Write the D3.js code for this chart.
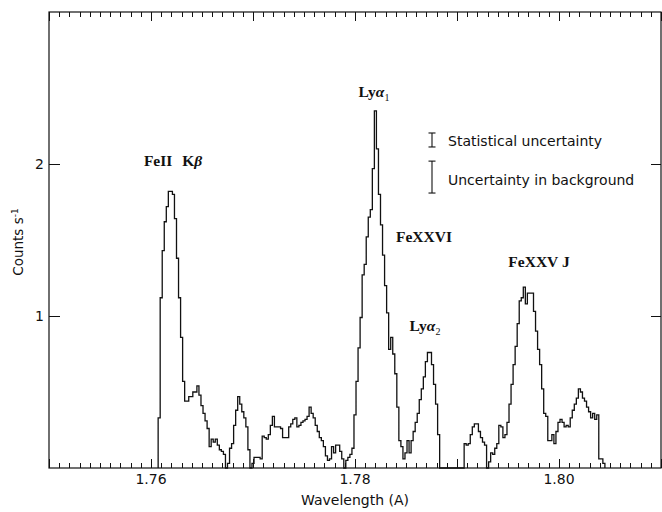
<!DOCTYPE html>
<html>
<head>
<meta charset="utf-8">
<script src="https://cdn.jsdelivr.net/npm/d3@7"></script>
<style>
  html, body { margin: 0; padding: 0; background: #fff; }
  svg { display: block; }
  .sans { font-family: "DejaVu Sans", sans-serif; fill: #111; }
  .lab { font-family: "Liberation Serif", "Times New Roman", serif; font-weight: bold; fill: #111; }
</style>
</head>
<body>
<svg id="chart" width="662" height="512"></svg>
<script>
// Spectrum binning: first bin edge (Å) and bin width (Å)
const binStart = 1.7607;
const binWidth = 0.0002;

// Count rate per bin (counts s^-1)
const counts = [
  0.33, 1.12, 1.43, 1.62, 1.72, 1.82, 1.82, 1.80, 1.64, 1.38,
  1.12, 0.86, 0.57, 0.44, 0.44, 0.47, 0.47, 0.50, 0.50, 0.54,
  0.48, 0.41, 0.36, 0.31, 0.26, 0.14, 0.19, 0.17, 0.19, 0.15,
  0.12, 0.11, 0.09, 0.00, 0.03, 0.13, 0.16, 0.28, 0.38, 0.47,
  0.42, 0.37, 0.33, 0.27, 0.12, 0.00, 0.03, 0.07, 0.07, 0.07,
  0.06, 0.21, 0.20, 0.19, 0.22, 0.28, 0.34, 0.27, 0.27, 0.27,
  0.26, 0.20, 0.20, 0.20, 0.27, 0.29, 0.32, 0.33, 0.27, 0.28,
  0.30, 0.31, 0.32, 0.34, 0.40, 0.36, 0.33, 0.28, 0.24, 0.20,
  0.18, 0.14, 0.08, 0.05, 0.06, 0.14, 0.10, 0.15, 0.15, 0.11,
  0.06, 0.00, 0.05, 0.07, 0.09, 0.13, 0.35, 0.57, 0.79, 0.99,
  1.27, 1.34, 1.52, 1.65, 1.70, 1.97, 2.35, 2.10, 1.80, 1.60,
  1.40, 1.20, 1.02, 0.78, 0.86, 0.75, 0.62, 0.40, 0.18, 0.14,
  0.06, 0.10, 0.18, 0.10, 0.18, 0.24, 0.30, 0.36, 0.45, 0.52,
  0.60, 0.70, 0.76, 0.76, 0.68, 0.55, 0.42, 0.22, 0.00, 0.00,
  0.00, 0.00, 0.00, 0.00, 0.00, 0.00, 0.00, 0.00, 0.00, 0.00,
  0.16, 0.15, 0.16, 0.22, 0.27, 0.29, 0.29, 0.24, 0.20, 0.17,
  0.15, 0.00, 0.04, 0.10, 0.09, 0.13, 0.16, 0.28, 0.27, 0.20,
  0.22, 0.30, 0.42, 0.55, 0.68, 0.80, 0.95, 1.10, 1.12, 1.19,
  1.08, 1.15, 1.15, 1.15, 1.03, 0.90, 0.78, 0.68, 0.52, 0.36,
  0.34, 0.18, 0.18, 0.22, 0.16, 0.24, 0.30, 0.32, 0.30, 0.27,
  0.28, 0.27, 0.33, 0.38, 0.42, 0.46, 0.52, 0.50, 0.46, 0.44,
  0.40, 0.37, 0.33, 0.36, 0.32, 0.35, 0.06, 0.06, 0.03
];

// Axis ranges and tick values
const xDomain = [1.75, 1.81];
const yDomain = [0, 3];
const xTickLabels = ["1.76", "1.78", "1.80"];
const yTicks = [1, 2];

// Line identifications (label centre wavelength, baseline level)
const lineLabels = [
  { text: "FeII", text2: "K", greek: "β", sub: "", lam: 1.76216, val: 1.99 },
  { text: "Ly", text2: "", greek: "α", sub: "1", lam: 1.78186, val: 2.44 },
  { text: "FeXXVI", text2: "", greek: "", sub: "", lam: 1.78676, val: 1.49 },
  { text: "Ly", text2: "", greek: "α", sub: "2", lam: 1.78686, val: 0.90 },
  { text: "FeXXV J", text2: "", greek: "", sub: "", lam: 1.79804, val: 1.32 }
];

// Error-bar legend entries (bar centre and half-length in counts s^-1)
const legendItems = [
  { label: "Statistical uncertainty", half: 0.046, val: 2.158, textVal: 2.15 },
  { label: "Uncertainty in background", half: 0.105, val: 1.914, textVal: 1.895 }
];

const svg = d3.select("#chart");
const plotL = 49, plotR = 661, plotT = 12, plotB = 468;

const x = d3.scaleLinear().domain(xDomain).range([plotL, plotR]);
const y = d3.scaleLinear().domain(yDomain).range([plotB, plotT]);

const ink = "#111";

// Frame
svg.append("rect")
  .attr("x", plotL).attr("y", plotT)
  .attr("width", plotR - plotL).attr("height", plotB - plotT)
  .attr("fill", "none").attr("stroke", ink).attr("stroke-width", 1.2);

// Minor ticks every 0.001 Å on bottom and top, major every 0.01 Å
const minorTicks = d3.range(0, 61).map(k => xDomain[0] + k * 0.001);
const g = svg.append("g").attr("stroke", ink).attr("stroke-width", 1);
minorTicks.forEach((t, k) => {
  const major = k % 10 === 0;
  const len = major ? 9 : 5;
  const px = Math.round(x(t)) + 0.5;
  g.append("line").attr("x1", px).attr("x2", px).attr("y1", plotB).attr("y2", plotB - len);
  g.append("line").attr("x1", px).attr("x2", px).attr("y1", plotT).attr("y2", plotT + len);
});

// Y ticks on both sides
yTicks.forEach(v => {
  const py = Math.round(y(v)) + 0.5;
  g.append("line").attr("x1", plotL).attr("x2", plotL + 11).attr("y1", py).attr("y2", py);
  g.append("line").attr("x1", plotR).attr("x2", plotR - 10).attr("y1", py).attr("y2", py);
});

// Tick labels
svg.selectAll(".xtl").data(xTickLabels).enter().append("text")
  .attr("class", "sans")
  .attr("x", d => x(+d)).attr("y", 484)
  .attr("text-anchor", "middle").attr("font-size", 14)
  .text(d => d);

svg.selectAll(".ytl").data(yTicks).enter().append("text")
  .attr("class", "sans")
  .attr("x", 44).attr("y", d => y(d) + 5)
  .attr("text-anchor", "end").attr("font-size", 14)
  .text(d => d);

// Axis titles
svg.append("text").attr("class", "sans")
  .attr("x", x(1.78)).attr("y", 505)
  .attr("text-anchor", "middle").attr("font-size", 14)
  .text("Wavelength (A)");

const yt = svg.append("text").attr("class", "sans")
  .attr("transform", "translate(23,242) rotate(-90)")
  .attr("text-anchor", "middle").attr("font-size", 13.5);
yt.append("tspan").text("Counts s");
yt.append("tspan").attr("dy", -5).attr("font-size", 9).text("-1");

// Histogram
const pts = [[binStart, 0]];
counts.forEach((c, i) => pts.push([binStart + i * binWidth, c]));
const binEnd = binStart + counts.length * binWidth;
pts.push([binEnd, counts[counts.length - 1]]);
pts.push([binEnd, 0]);

const line = d3.line()
  .x(d => x(d[0]))
  .y(d => y(d[1]))
  .curve(d3.curveStepAfter);

svg.append("path")
  .datum(pts)
  .attr("d", line)
  .attr("fill", "none")
  .attr("stroke", ink)
  .attr("stroke-width", 1.3)
  .attr("stroke-linejoin", "miter");

// Line identification labels
lineLabels.forEach(L => {
  const t = svg.append("text").attr("class", "lab")
    .attr("x", x(L.lam)).attr("y", y(L.val))
    .attr("text-anchor", "middle").attr("font-size", 15.5);
  t.append("tspan").text(L.text);
  if (L.text2) t.append("tspan").attr("dx", 6).text(" " + L.text2);
  if (L.greek) t.append("tspan").attr("font-style", "italic").text(L.greek);
  if (L.sub) t.append("tspan").attr("dy", 4).attr("font-size", 10).attr("font-weight", "normal").text(L.sub);
});

// Legend: error bars with caps
const lx = 432;
legendItems.forEach(it => {
  const y1 = y(it.val + it.half), y2 = y(it.val - it.half);
  const lg = svg.append("g").attr("stroke", ink).attr("stroke-width", 1.1);
  lg.append("line").attr("x1", lx).attr("x2", lx).attr("y1", y1).attr("y2", y2);
  lg.append("line").attr("x1", lx - 3.5).attr("x2", lx + 3.5).attr("y1", y1).attr("y2", y1);
  lg.append("line").attr("x1", lx - 3.5).attr("x2", lx + 3.5).attr("y1", y2).attr("y2", y2);
  svg.append("text").attr("class", "sans")
    .attr("x", 448).attr("y", y(it.textVal) + 5)
    .attr("font-size", 14)
    .text(it.label);
});
</script>
</body>
</html>
